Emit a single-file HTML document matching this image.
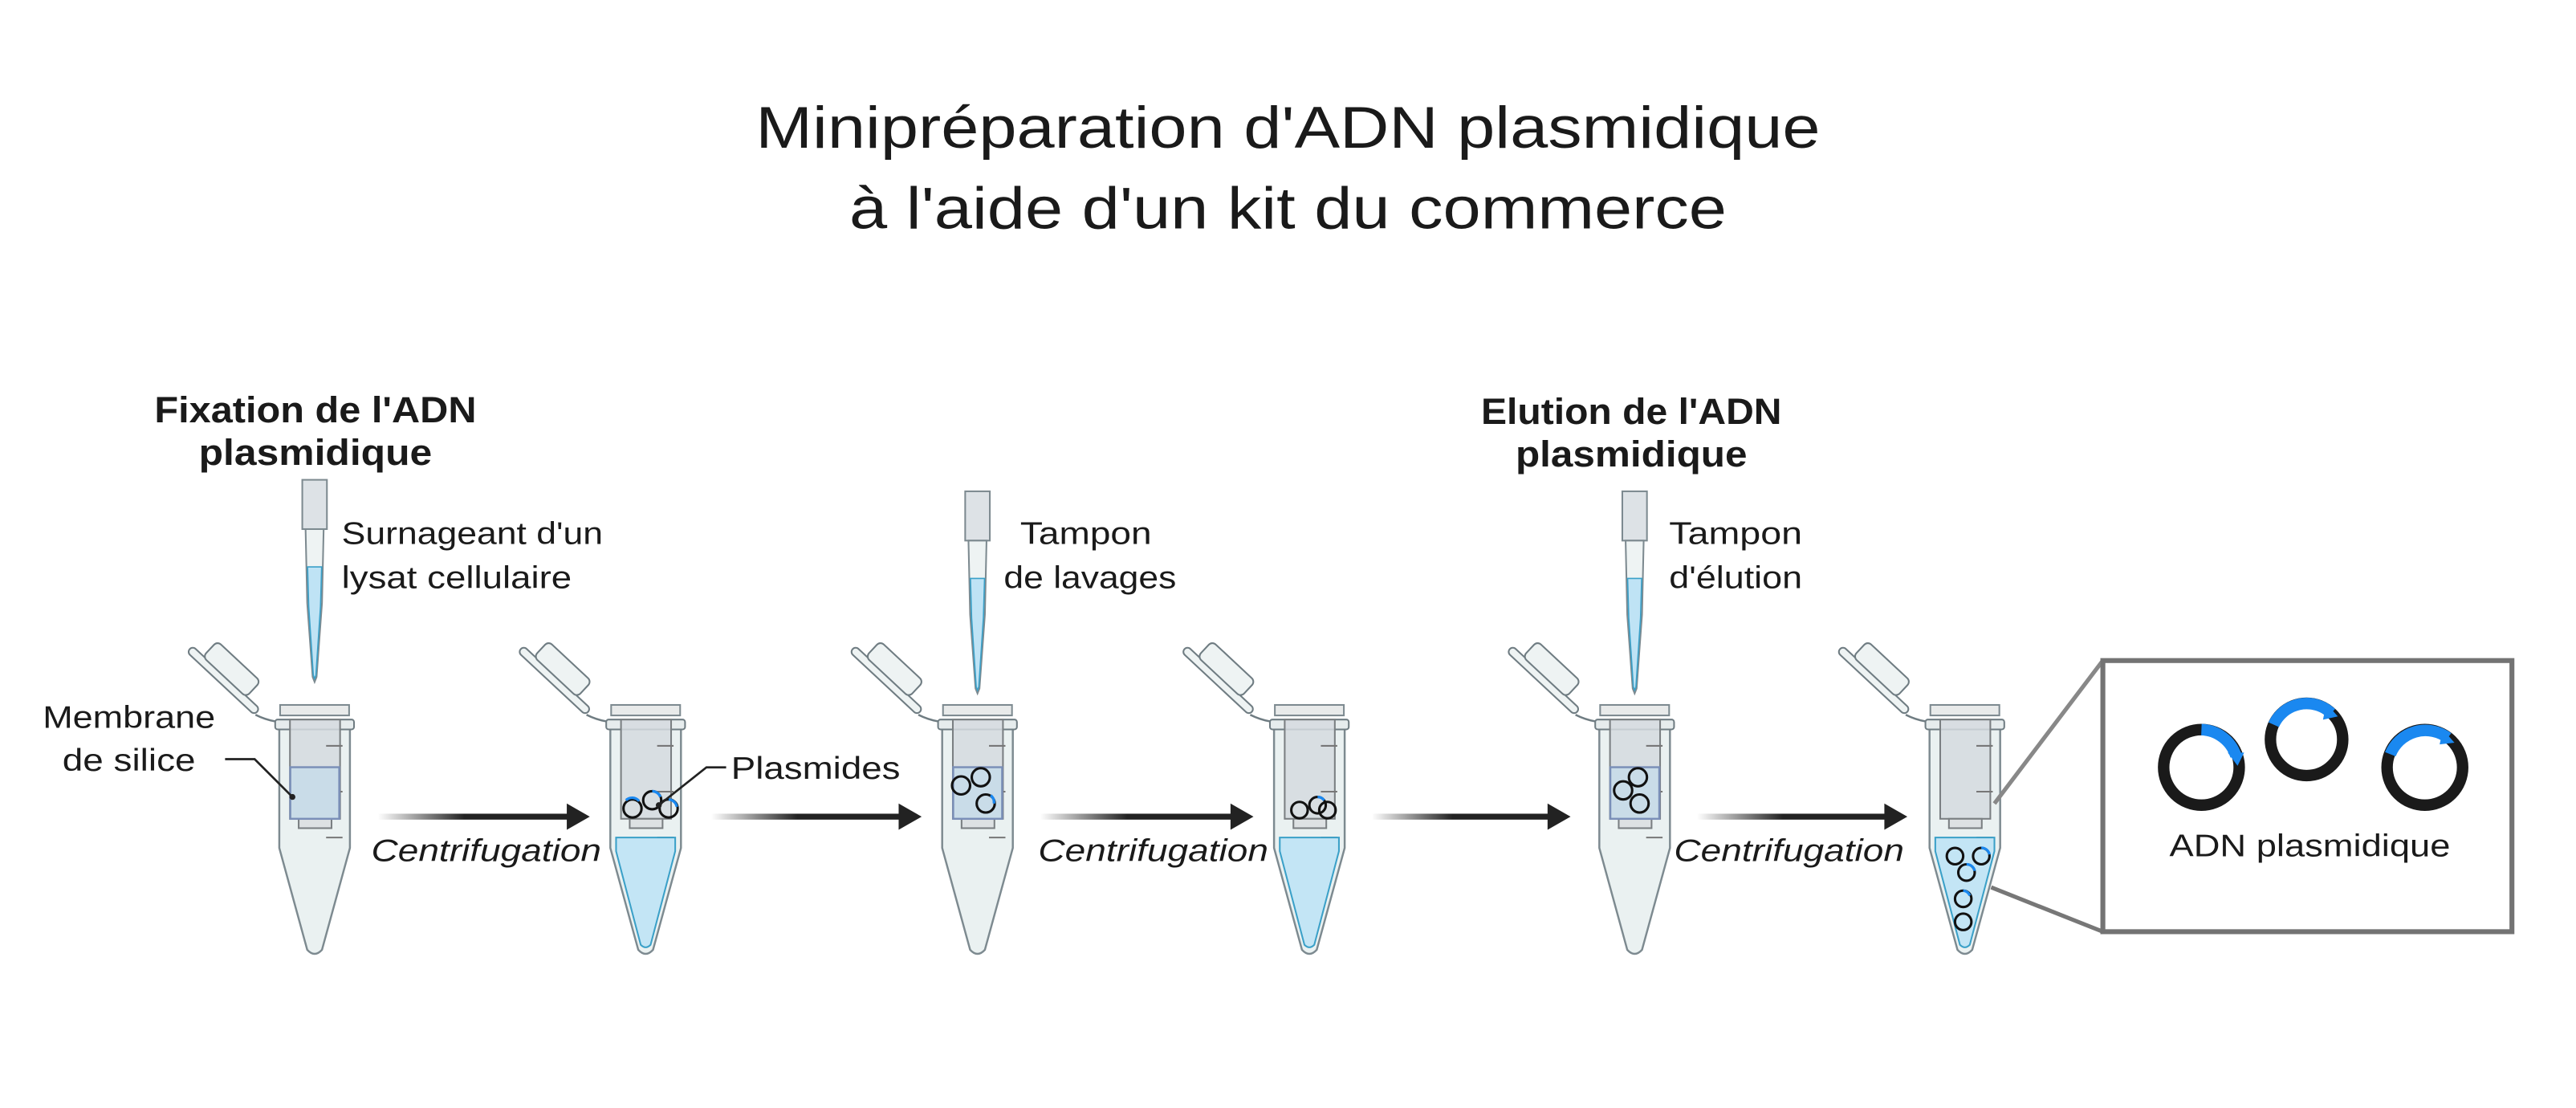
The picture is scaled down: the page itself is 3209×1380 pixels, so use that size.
<!DOCTYPE html>
<html><head><meta charset="utf-8"><style>
html,body{margin:0;padding:0;background:#fff;}
svg{display:block;}
text{font-family:"Liberation Sans",Arial,sans-serif;fill:#1a1a1a;}
</style></head><body>
<svg width="3209" height="1380" viewBox="0 0 1568 674.3" preserveAspectRatio="none" xmlns="http://www.w3.org/2000/svg">
<defs>
<linearGradient id="ag" x1="0" x2="1" y1="0" y2="0">
<stop offset="0" stop-color="#222" stop-opacity="0"/><stop offset="0.45" stop-color="#222" stop-opacity="1"/><stop offset="1" stop-color="#222"/>
</linearGradient>
<g id="tube">
  <g transform="translate(-76,-43) rotate(43)">
    <rect x="0" y="-2.5" width="56" height="5" rx="2.5" fill="#eef3f3" stroke="#6f7c82" stroke-width="1"/>
    <rect x="9" y="-15" width="36" height="13" rx="3" fill="#eef3f3" stroke="#6f7c82" stroke-width="1"/>
  </g>
  <path d="M-36,-3 Q-30,0 -24,1" fill="none" stroke="#6f7c82" stroke-width="1.2"/>
  <path d="M-21.5,5 L21.5,5 L21.5,78 L4.5,140 Q0,145 -4.5,140 L-21.5,78 Z" fill="#eaf1f1" stroke="#7d8a90" stroke-width="1.2"/>
  <rect x="-21" y="-9" width="42" height="6.4" fill="#e8eaea" stroke="#7d8a90" stroke-width="1"/>
  <rect x="-24" y="-0.1" width="48" height="6" rx="1.5" fill="#e6eced" stroke="#6f7c82" stroke-width="1"/>
  <rect x="-15" y="-0.1" width="30.5" height="60.4" fill="#d5dbdf" fill-opacity="0.85" stroke="#7a7f82" stroke-width="1"/>
  <rect x="-9.7" y="60.3" width="20" height="5.7" fill="#dde1e3" stroke="#7a7f82" stroke-width="1"/>
  <line x1="7" y1="15.9" x2="17" y2="15.9" stroke="#777" stroke-width="1"/>
  <line x1="7" y1="43.8" x2="17" y2="43.8" stroke="#777" stroke-width="1"/>
  <line x1="7" y1="71.7" x2="17" y2="71.7" stroke="#777" stroke-width="1"/>
</g>
<path id="liq" d="M-18,71.7 L18,71.7 L18,80 L3,137 Q0,140 -3,137 L-18,80 Z" fill="#bfe3f5" fill-opacity="0.9" stroke="#3aa0c8" stroke-width="1"/>
<rect id="mem" x="-14.8" y="28.9" width="29.8" height="31.4" fill="#c9dce8" stroke="#7a8fb8" stroke-width="1.2"/>
<g id="pip">
  <rect x="-7.5" y="0" width="15" height="30" fill="#dde2e6" stroke="#7d8a90" stroke-width="1"/>
  <path d="M-5.5,30 L5.5,30 L4.5,75 L1.2,120 L0,123 L-1.2,120 L-4.5,75 Z" fill="#eef3f3" stroke="#7d8a90" stroke-width="1"/>
  <path d="M-4.3,53 L4.3,53 L3.6,77 L0.8,119 L0,121 L-0.8,119 L-3.6,77 Z" fill="#bfe3f5" stroke="#3aa0c8" stroke-width="0.8"/>
</g>
</defs>

<text x="784" y="90" font-size="36" text-anchor="middle" textLength="648" lengthAdjust="spacingAndGlyphs">Minipréparation d'ADN plasmidique</text>
<text x="784" y="139" font-size="36" text-anchor="middle" textLength="534" lengthAdjust="spacingAndGlyphs">à l'aide d'un kit du commerce</text>

<text x="192" y="257" font-size="22" font-weight="bold" text-anchor="middle" textLength="196" lengthAdjust="spacingAndGlyphs">Fixation de l'ADN</text>
<text x="192" y="283" font-size="22" font-weight="bold" text-anchor="middle" textLength="142" lengthAdjust="spacingAndGlyphs">plasmidique</text>
<text x="993" y="258" font-size="22" font-weight="bold" text-anchor="middle" textLength="183" lengthAdjust="spacingAndGlyphs">Elution de l'ADN</text>
<text x="993" y="284" font-size="22" font-weight="bold" text-anchor="middle" textLength="141" lengthAdjust="spacingAndGlyphs">plasmidique</text>

<text x="208" y="331" font-size="19" textLength="159" lengthAdjust="spacingAndGlyphs">Surnageant d'un</text>
<text x="208" y="358" font-size="19" textLength="140" lengthAdjust="spacingAndGlyphs">lysat cellulaire</text>
<text x="621" y="331" font-size="19" textLength="80" lengthAdjust="spacingAndGlyphs">Tampon</text>
<text x="611" y="358" font-size="19" textLength="105" lengthAdjust="spacingAndGlyphs">de lavages</text>
<text x="1016" y="331" font-size="19" textLength="81" lengthAdjust="spacingAndGlyphs">Tampon</text>
<text x="1016" y="358" font-size="19" textLength="81" lengthAdjust="spacingAndGlyphs">d'élution</text>
<text x="26" y="443" font-size="19" textLength="105" lengthAdjust="spacingAndGlyphs">Membrane</text>
<text x="38" y="469" font-size="19" textLength="81" lengthAdjust="spacingAndGlyphs">de silice</text>
<text x="445" y="474" font-size="19" textLength="103" lengthAdjust="spacingAndGlyphs">Plasmides</text>

<g transform="translate(191.5,438)"><use href="#tube"/><use href="#mem"/></g>
<g transform="translate(393,438)"><use href="#tube"/><use href="#liq"/></g>
<g transform="translate(595,438)"><use href="#tube"/><use href="#mem"/></g>
<g transform="translate(797,438)"><use href="#tube"/><use href="#liq"/></g>
<g transform="translate(995,438)"><use href="#tube"/><use href="#mem"/></g>
<g transform="translate(1196,438)"><use href="#tube"/><use href="#liq"/></g>

<g transform="translate(191.5,292)"><use href="#pip"/></g>
<g transform="translate(595,299)"><use href="#pip"/></g>
<g transform="translate(995,299)"><use href="#pip"/></g>

<g fill="none" stroke="#111" stroke-width="1.5">
<circle cx="385" cy="492" r="5.5"/><circle cx="397" cy="487" r="5.5"/><circle cx="407" cy="492" r="5.5"/>
<circle cx="585" cy="478" r="5.5"/><circle cx="597" cy="473" r="5.5"/><circle cx="600" cy="489" r="5.5"/>
<circle cx="791" cy="493" r="5"/><circle cx="802" cy="490" r="5"/><circle cx="808" cy="493" r="5"/>
<circle cx="988" cy="481" r="5.5"/><circle cx="997" cy="473" r="5.5"/><circle cx="998" cy="489" r="5.5"/>
<circle cx="1190" cy="521" r="5"/><circle cx="1206" cy="521" r="5"/><circle cx="1197" cy="531" r="5"/><circle cx="1195" cy="547" r="5"/><circle cx="1195" cy="561" r="5"/>
</g>
<g fill="none" stroke="#1a88f0" stroke-width="1.6">
<path d="M381,487 A5.5,5.5 0 0 1 389,487.5"/><path d="M397,481.5 A5.5,5.5 0 0 1 402,485"/><path d="M407,486.5 A5.5,5.5 0 0 1 412,491"/>
<path d="M603,484 A5.5,5.5 0 0 1 605,489"/><path d="M802,485 A5,5 0 0 1 806,487"/>
<path d="M1206,516 A5,5 0 0 1 1211,520"/><path d="M1197,526 A5,5 0 0 1 1202,530"/><path d="M1195,542 A5,5 0 0 1 1199,545"/>
</g>

<polyline points="137,462 155,462 178,485" fill="none" stroke="#222" stroke-width="1.3"/>
<circle cx="178" cy="485" r="1.8" fill="#222"/>
<polyline points="442,467 430,467 401,490" fill="none" stroke="#222" stroke-width="1.3"/>
<circle cx="401" cy="490" r="1.8" fill="#222"/>

<g fill="url(#ag)">
<rect x="230" y="495.2" width="117" height="3.6"/>
<rect x="433" y="495.2" width="116" height="3.6"/>
<rect x="633" y="495.2" width="118" height="3.6"/>
<rect x="835" y="495.2" width="109" height="3.6"/>
<rect x="1033" y="495.2" width="116" height="3.6"/>
</g>
<g fill="#222">
<path d="M345,489 L359,497 L345,505 Z"/><path d="M547,489 L561,497 L547,505 Z"/>
<path d="M749,489 L763,497 L749,505 Z"/><path d="M942,489 L956,497 L942,505 Z"/>
<path d="M1147,489 L1161,497 L1147,505 Z"/>
</g>
<g font-size="19" font-style="italic">
<text x="226" y="524" textLength="140" lengthAdjust="spacingAndGlyphs">Centrifugation</text>
<text x="632" y="524" textLength="140" lengthAdjust="spacingAndGlyphs">Centrifugation</text>
<text x="1019" y="524" textLength="140" lengthAdjust="spacingAndGlyphs">Centrifugation</text>
</g>

<line x1="1280" y1="402" x2="1214" y2="489" stroke="#888" stroke-width="2.5"/>
<line x1="1280" y1="567" x2="1212" y2="540" stroke="#777" stroke-width="2.5"/>
<rect x="1280" y="402" width="249" height="165" fill="#fff" stroke="#737373" stroke-width="3"/>
<g fill="none" stroke="#1a1a1a" stroke-width="7">
<circle cx="1340" cy="467" r="23"/><circle cx="1404" cy="450" r="22"/><circle cx="1476" cy="467" r="23"/>
</g>
<g fill="none" stroke="#1a88f0" stroke-width="7">
<path d="M1340,444 A23,23 0 0 1 1361,460"/>
<path d="M1384,441 A22,22 0 0 1 1419,434"/>
<path d="M1455,459 A23,23 0 0 1 1490,449"/>
</g>
<g fill="#1a88f0">
<path d="M1356,458 L1366,458 L1362,466 Z"/><path d="M1416,428 L1423,436 L1414,438 Z"/><path d="M1487,444 L1494,452 L1485,453 Z"/>
</g>
<text x="1406" y="521" font-size="19" text-anchor="middle" textLength="171" lengthAdjust="spacingAndGlyphs">ADN plasmidique</text>
</svg>
</body></html>
